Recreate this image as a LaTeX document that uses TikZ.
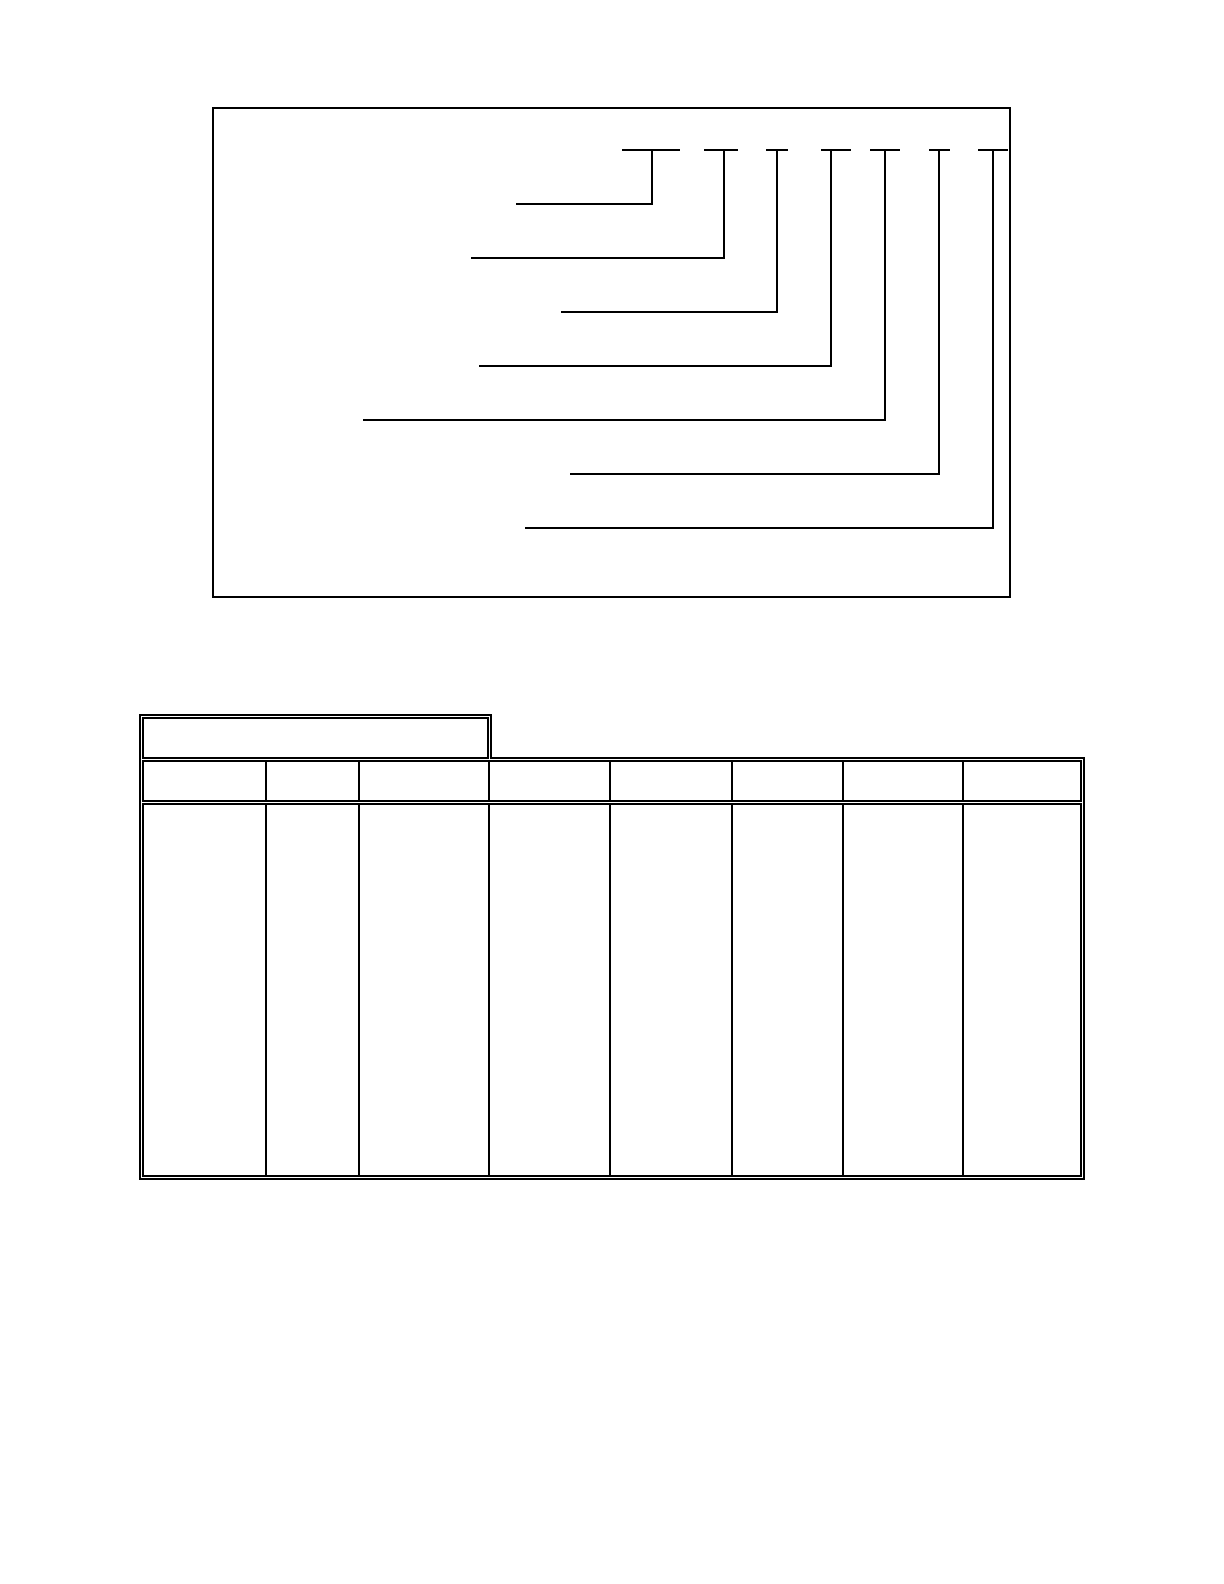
\documentclass[tikz,border=0pt]{standalone}
\begin{document}
\begin{tikzpicture}[x=0.5pt,y=-0.5pt,
  thinln/.style={line width=0.6pt, line cap=rect},
  thickln/.style={line width=1.2pt, line cap=rect},
  outerln/.style={line width=0.9pt, line join=miter},
  colthin/.style={line width=0.6pt},
  colthick/.style={line width=1.1pt}]
\useasboundingbox (0,0) rectangle (1224,1584);
\fill[white] (0,0) rectangle (1224,1584);
% ---- upper frame ----
\coordinate (tl) at (213,108);
\coordinate (tr) at (1010,108);
\coordinate (br) at (1010,597);
\coordinate (bl) at (213,597);
\draw[thinln] (tr) -- (tl) -- (bl);
\draw[line width=0.8pt] (bl) -- (br);
\draw[thickln] (tr) -- (br);
% ---- code bars and leader lines ----
\foreach \i/\a/\b/\v/\y/\l in {1/623/679/652/204/516, 2/705/737/724/258/471, 3/767/787/777/312/561, 4/822/850/831/366/479, 5/871/899/885/420/363, 6/930/949/939/474/570, 7/979/1007/993/528/525}{
  \coordinate (bara\i) at (\a,150);
  \coordinate (barb\i) at (\b,150);
  \coordinate (barv\i) at (\v,150);
  \coordinate (knee\i) at (\v,\y);
  \coordinate (end\i) at (\l,\y);
  \draw[thinln] (bara\i) -- (barb\i);
  \draw[line width=0.6pt] (barv\i) -- (knee\i) -- (end\i);
}
% ---- lower table ----
\draw[outerln] (140,758) -- (140,715) -- (491,715) -- (491,758) -- (1084,758) -- (1084,1179) -- (140,1179) -- cycle;
\draw[colthin] (143,758) -- (143,718) -- (488,718) -- (488,758) -- cycle;
\draw[colthin] (143,761) rectangle (1081,801);
\draw[colthin] (143,804) rectangle (1081,1176);
\foreach \c in {359,489,610,843}{
  \draw[colthin] (\c,761) -- (\c,801);
  \draw[colthin] (\c,804) -- (\c,1176);
}
\foreach \c in {266,732,963}{
  \draw[colthick] (\c,761) -- (\c,801);
  \draw[colthick] (\c,804) -- (\c,1176);
}
\end{tikzpicture}
\end{document}
